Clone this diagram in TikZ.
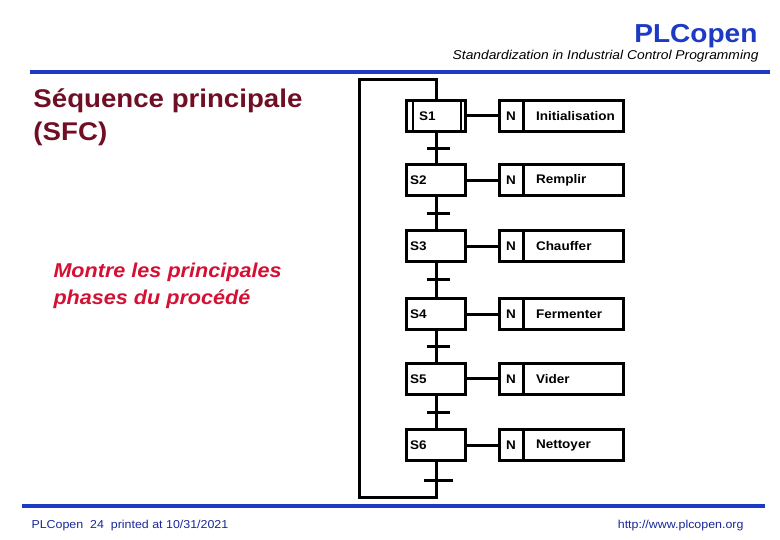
\documentclass[tikz,border=0pt]{standalone}
\usepackage{fontspec}
\setmainfont{Liberation Sans}[FakeStretch=1.08]
\usepackage{tikz}
\usepackage{xcolor}
\definecolor{plcblue}{RGB}{28,58,196}
\definecolor{maroon}{RGB}{112,14,36}
\definecolor{crimson}{RGB}{212,16,52}
\definecolor{foot}{RGB}{24,40,150}

\begin{document}
\begin{tikzpicture}[x=1pt, y=-1pt, line width=3pt,
  step box/.style={draw, rectangle, minimum width=59pt, minimum height=31pt, inner sep=0pt, outer sep=0pt, text width=52pt, align=left, font=\fontsize{12.5}{14}\selectfont\bfseries},
  qual box/.style={draw, rectangle, minimum width=24pt, minimum height=31pt, inner sep=0pt, outer sep=0pt, font=\fontsize{12.5}{14}\selectfont\bfseries},
  act box/.style={draw, rectangle, minimum width=100pt, minimum height=31pt, inner sep=0pt, outer sep=0pt, text width=74pt, align=left, font=\fontsize{12.5}{14}\selectfont\bfseries},
  trans/.style={fill, rectangle, minimum width=23pt, minimum height=3pt, inner sep=0pt, outer sep=0pt}]
\useasboundingbox (0,0) rectangle (780,540);

% header and footer
\node[anchor=base east, text=plcblue, font=\fontsize{26}{28}\selectfont\bfseries, inner sep=0pt] (title) at (759,43) {PLCopen};
\node[anchor=base east, font=\fontsize{12.8}{14}\selectfont\itshape, inner sep=0pt] (sub) at (760,60) {Standardization in Industrial Control Programming};
\draw[plcblue, line width=4pt] (30,72) -- (770,72);
\draw[plcblue, line width=4pt] (22,506) -- (765,506);
\node[anchor=base west, text=foot, font=\fontsize{11.5}{13}\selectfont, inner sep=0pt] (foot) at (30,528) {PLCopen\ \ 24\ \ printed at 10/31/2021};
\node[anchor=base east, text=foot, font=\fontsize{11.5}{13}\selectfont, inner sep=0pt] (url) at (745,528) {http://www.plcopen.org};

% titles on the left
\node[anchor=base west, text=maroon, font=\fontsize{25.6}{32}\selectfont\bfseries, inner sep=0pt] (head) at (32,108) {Séquence principale};
\node[anchor=base west, text=maroon, font=\fontsize{25.6}{32}\selectfont\bfseries, inner sep=0pt] (head2) at (32,141) {(SFC)};
\node[anchor=base west, text=crimson, font=\fontsize{20}{27}\selectfont\bfseries\itshape, inner sep=0pt] (note) at (52,278) {Montre les principales};
\node[anchor=base west, text=crimson, font=\fontsize{20}{27}\selectfont\bfseries\itshape, inner sep=0pt] (note2) at (52,305) {phases du procédé};

% steps
\node[step box] (s1) at (436,116) {\hspace*{9pt}S1};
\node[step box] (s2) at (436,180.5) {S2};
\node[step box] (s3) at (436,246.5) {S3};
\node[step box] (s4) at (436,314.5) {S4};
\node[step box] (s5) at (436,379) {S5};
\node[step box] (s6) at (436,445) {S6};
\draw[line width=2pt] (413,101) -- (413,131) (461,101) -- (461,131);

% actions
\node[qual box] (n1) at (511,116) {N};
\node[qual box] (n2) at (511,180.5) {N};
\node[qual box] (n3) at (511,246.5) {N};
\node[qual box] (n4) at (511,314.5) {N};
\node[qual box] (n5) at (511,379) {N};
\node[qual box] (n6) at (511,445) {N};
\node[act box, anchor=west] (a1) at (n1.east) {Initialisation};
\node[act box, anchor=west] (a2) at (n2.east) {Remplir};
\node[act box, anchor=west] (a3) at (n3.east) {Chauffer};
\node[act box, anchor=west] (a4) at (n4.east) {Fermenter};
\node[act box, anchor=west] (a5) at (n5.east) {Vider};
\node[act box, anchor=west] (a6) at (n6.east) {Nettoyer};

% transitions
\node[trans] (t1) at (438,148.5) {};
\node[trans] (t2) at (438,213.5) {};
\node[trans] (t3) at (438,280) {};
\node[trans] (t4) at (438,347) {};
\node[trans] (t5) at (438,412) {};
\node[trans, minimum width=29pt] (t6) at (438,480) {};
\coordinate (lb) at (436,497);
\coordinate (ll) at (359,80);

\foreach \i/\j in {1/2,2/3,3/4,4/5,5/6}
  \draw (s\i.south) -- (s\j.north);
\foreach \i in {1,...,6}
  \draw (s\i.east) -- (n\i.west);
\draw (s6.south) -- (lb) -| (ll) -| (s1.north);
\end{tikzpicture}
\end{document}
